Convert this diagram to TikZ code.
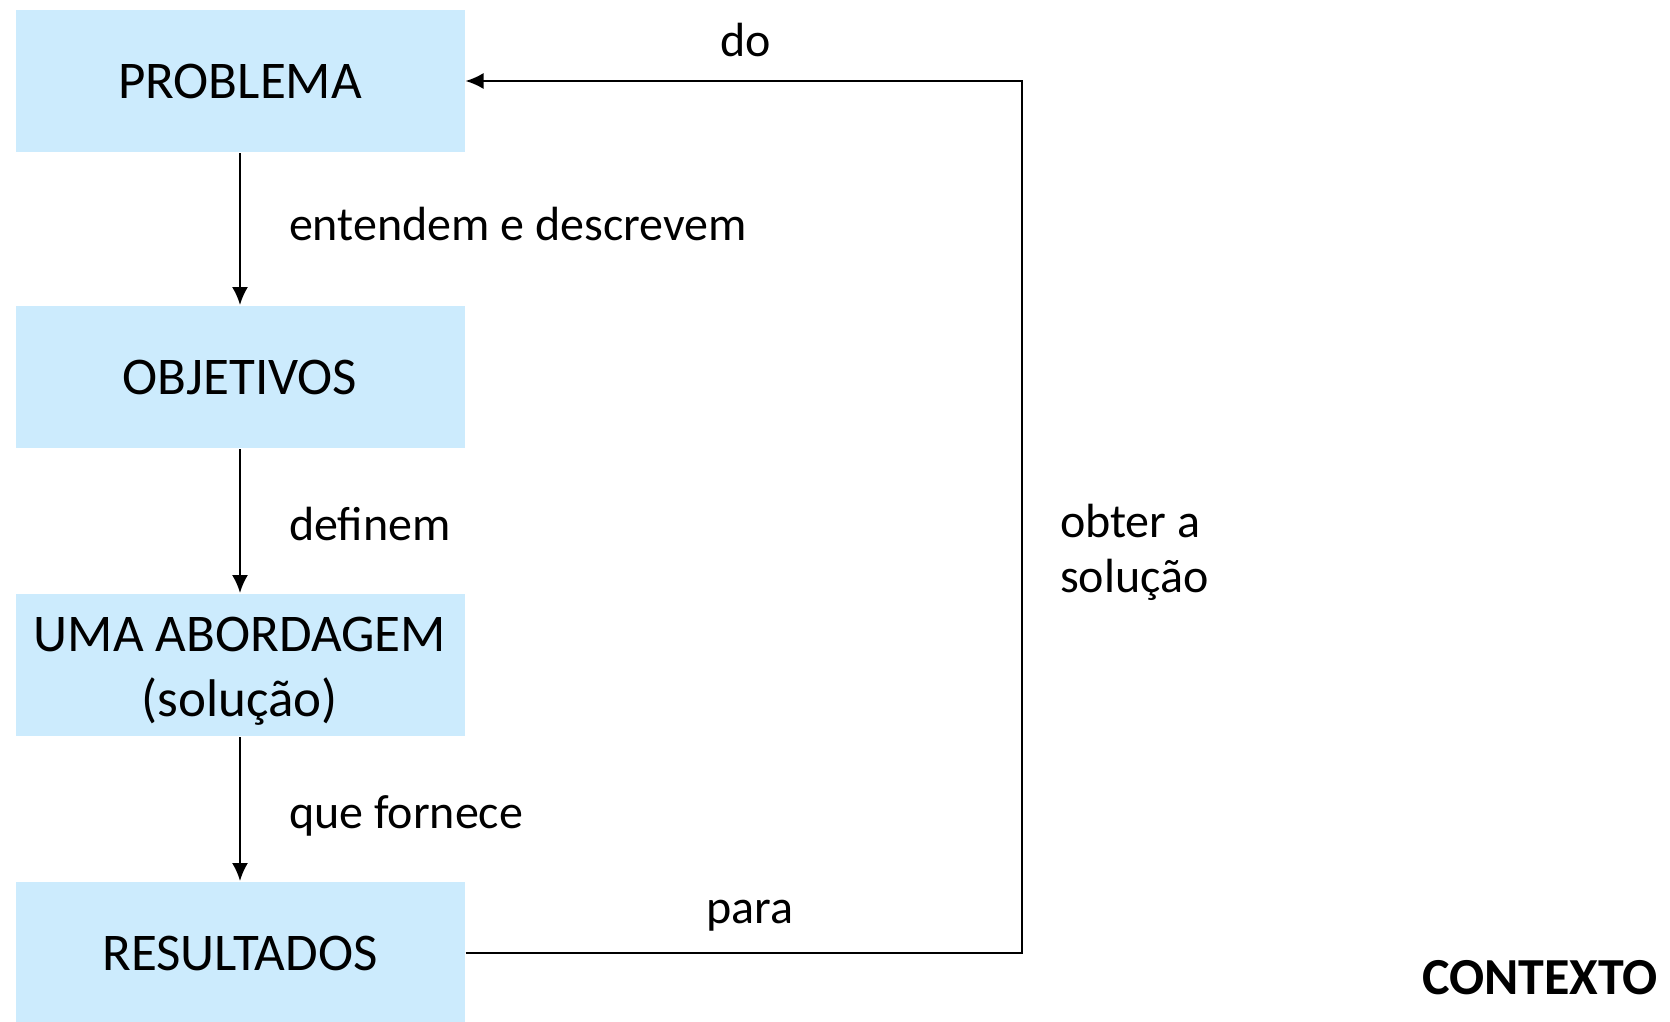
\documentclass[tikz,border=0pt]{standalone}
\usepackage{fontspec}
\setmainfont{Carlito}
\usetikzlibrary{arrows.meta}
\definecolor{boxblue}{HTML}{CCEBFD}

\tikzset{
	box/.style={fill=boxblue, minimum width=224.5pt, minimum height=71pt,
	            inner sep=0pt, align=center, font=\fontsize{26.5}{32.5}\selectfont},
	boxtext/.style={inner sep=0pt, align=center, font=\fontsize{26.5}{32.5}\selectfont},
	lbl/.style={inner sep=0pt, align=left, font=\fontsize{24}{27.5}\selectfont},
}

\begin{document}
\begin{tikzpicture}[>={Latex[length=9pt,width=8pt]}, x=0.5pt, y=-0.5pt, line width=1pt]
\useasboundingbox (0,0) rectangle (1670,1022);

% the four steps
\node[box] (problema)   at (240,81)  {PROBLEMA};
\node[box] (objetivos)  at (240,377) {OBJETIVOS};
\node[box] (abordagem)  at (240,665) {};
\node[boxtext] (abordagemtxt) at (240,671) {UMA ABORDAGEM\\(solução)};
\node[box] (resultados) at (240,953) {RESULTADOS};

\draw[->] (problema)  -- (objetivos);
\draw[->] (objetivos) -- (abordagem);
\draw[->] (abordagem) -- (resultados);

\node[lbl, anchor=west] (entendem) at (288,224) {entendem e descrevem};
\node[lbl, anchor=west] (definem)  at (288,524) {definem};
\node[lbl, anchor=west] (fornece)  at (288,816) {que fornece};

% back to the problem
\coordinate (baixo) at (1022,953);
\coordinate (cima)  at (1022,81);
\draw[->] (resultados.east) -- (baixo) -- (cima) -- (problema.east);

\node[lbl] (do)   at (746,40)  {do};
\node[lbl] (para) at (750,916) {para};
\node[lbl, anchor=west] (obter) at (1059,552) {obter a\\solução};

\node[inner sep=0pt, anchor=east, font=\fontsize{26}{30}\selectfont\bfseries]
	(contexto) at (1659,978) {CONTEXTO};
\end{tikzpicture}
\end{document}
